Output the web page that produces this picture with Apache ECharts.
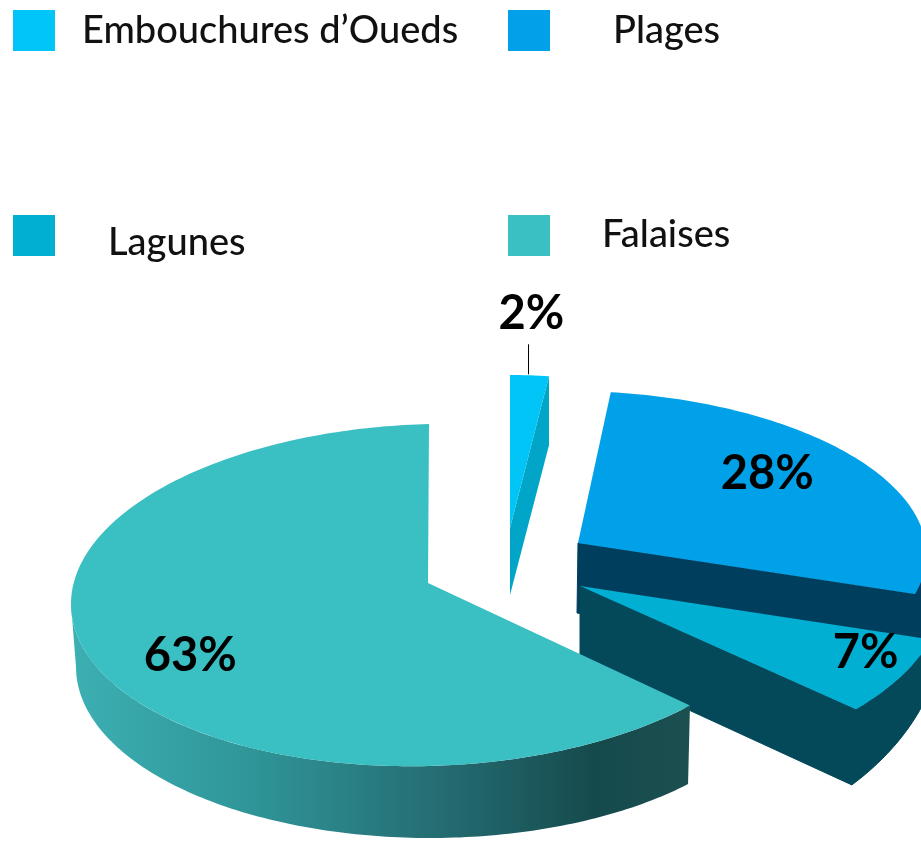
<!DOCTYPE html>
<html>
<head>
<meta charset="utf-8">
<style>html,body{margin:0;padding:0;background:#fff}#c{width:921px;height:842px}</style>
<script src="https://cdn.jsdelivr.net/npm/echarts@6/dist/echarts.min.js"></script>
</head>
<body>
<div id="c"></div>
<script>
// Data
const categories = ["Embouchures d\u2019Oueds", "Plages", "Lagunes", "Falaises"];
const shares = [2, 28, 7, 63];

// Styles
const topColors = ["#00c5f6", "#00a1e8", "#00afd1", "#3abfc3"];
const cutColors = ["#00a5c8", "#003e5e", "#03495a", "#1c4f50"];
const sideGradient = {type:"linear",x:0,y:0,x2:1,y2:0,colorStops:[
  {offset:0,color:"#3cb0b3"},{offset:0.3,color:"#2f9497"},{offset:0.6,color:"#246c72"},
  {offset:0.85,color:"#154a4c"},{offset:1,color:"#1c4f50"}]};
const sideColors = [cutColors[0], cutColors[1], cutColors[2], sideGradient];

// Projected geometry of each exploded slice: top and bottom ellipses plus their apexes
const layout = [
  {apex:[510,528], apexB:[510,595], top:{cx:510,cy:528,rx:311,ry:153,sx:0,ty:0},   bot:{cx:510,cy:595,rx:311,ry:151,sx:0,ty:0},   lab:[1.4,-6,0]},
  {apex:[578,543], apexB:[577,613], top:{cx:586,cy:546,rx:340,ry:155,sx:-18,ty:0}, bot:{cx:588,cy:616,rx:340,ry:155,sx:-18,ty:0}, lab:[0.65,1,-18]},
  {apex:[580,586], apexB:[580,660], top:{cx:608,cy:582,rx:340,ry:186,sx:0,ty:0},   bot:{cx:604,cy:622,rx:340,ry:238,sx:0,ty:0},   lab:[0.88,0,-12]},
  {apex:[428,583], apexB:[428,650], top:{cx:429,cy:595,rx:358,ry:171,sx:0,ty:-9},  bot:{cx:430,cy:667,rx:354,ry:171,sx:0,ty:0},   lab:[0.73,1,5]}
];
const rad = Math.PI / 180;
const total = shares.reduce((a, b) => a + b, 0);
const starts = shares.map((_, i) => shares.slice(0, i).reduce((a, b) => a + b, 0) / total * 360);

function pt(e, t) {
  const r = t * rad;
  return [e.cx + e.rx * Math.sin(r) + e.sx * Math.cos(r), e.cy - e.ry * Math.cos(r) + e.ty * Math.sin(r)];
}
function arc(e, a, b) {
  const out = [];
  const n = Math.max(2, Math.ceil(Math.abs(b - a)));
  for (let k = 0; k <= n; k++) out.push(pt(e, a + (b - a) * k / n));
  return out;
}
const poly = (points, fill, seam) => ({type:"polygon", shape:{points}, silent:true,
  style: seam ? {fill, stroke:fill, lineWidth:1} : {fill}});

function renderSlice(i) {
  return function (params, api) {
    const value = api.value(0);
    const a = starts[i], b = a + value / total * 360;
    const g = layout[i], kids = [];
    // side facing the viewer
    const v0 = Math.max(a, 90), v1 = Math.min(b, 270);
    if (v1 > v0) kids.push(poly(arc(g.top, v0, v1).concat(arc(g.bot, v1, v0)), sideColors[i], i !== 3));
    // cut face at the end of the slice
    if (b < 180) kids.push(poly([g.apex, pt(g.top, b), pt(g.bot, b), g.apexB], cutColors[i], i !== 0));
    // top face
    kids.push(poly([g.apex].concat(arc(g.top, a, b)), topColors[i], false));
    // value label placed from the mid angle
    const c = pt(g.top, (a + b) / 2);
    const f = g.lab[0];
    const lx = g.top.cx + (c[0] - g.top.cx) * f + g.lab[1];
    const ly = g.top.cy + (c[1] - g.top.cy) * f + g.lab[2];
    kids.push({type:"text", z2:10, silent:true, style:{x:lx, y:ly, text:value + "%", fill:"#000",
      font:"bold 47px Lato", align:"center", verticalAlign:"middle"}});
    if (i === 0) {
      const tm = pt(g.top, (a + b) / 2);
      kids.push({type:"line", silent:true, shape:{x1:tm[0]-1, y1:tm[1]-31, x2:tm[0]-1, y2:tm[1]-1}, style:{stroke:"#000", lineWidth:1}});
    }
    return {type:"group", children:kids};
  };
}

const legendPos = [
  {left:13,  top:10,  padding:[0,0,0,22]},
  {left:508, top:10,  padding:[0,0,0,58]},
  {left:13,  top:215, padding:[14,0,0,48]},
  {left:508, top:215, padding:[0,0,2,47]}
];

const chart = echarts.init(document.getElementById("c"), null, {renderer:"canvas", width:921, height:842});
chart.setOption({
  animation:false,
  backgroundColor:"#fff",
  legend: categories.map((name, i) => ({
    data:[name], left:legendPos[i].left, top:legendPos[i].top, padding:0, orient:"horizontal",
    itemWidth:42, itemHeight:41, icon:"rect", selectedMode:false,
    formatter: n => "{a|" + n + "}",
    textStyle:{fontFamily:"Lato", fontSize:38, fontWeight:500, color:"#111",
      rich:{a:{fontFamily:"Lato", fontSize:38, fontWeight:500, color:"#111", padding:legendPos[i].padding}}}
  })),
  series: categories.map((name, i) => ({
    type:"custom", name, coordinateSystem:"none", z:2+i, silent:true,
    itemStyle:{color:topColors[i]},
    data:[[shares[i]]],
    renderItem:renderSlice(i)
  }))
});
</script>
</body>
</html>
